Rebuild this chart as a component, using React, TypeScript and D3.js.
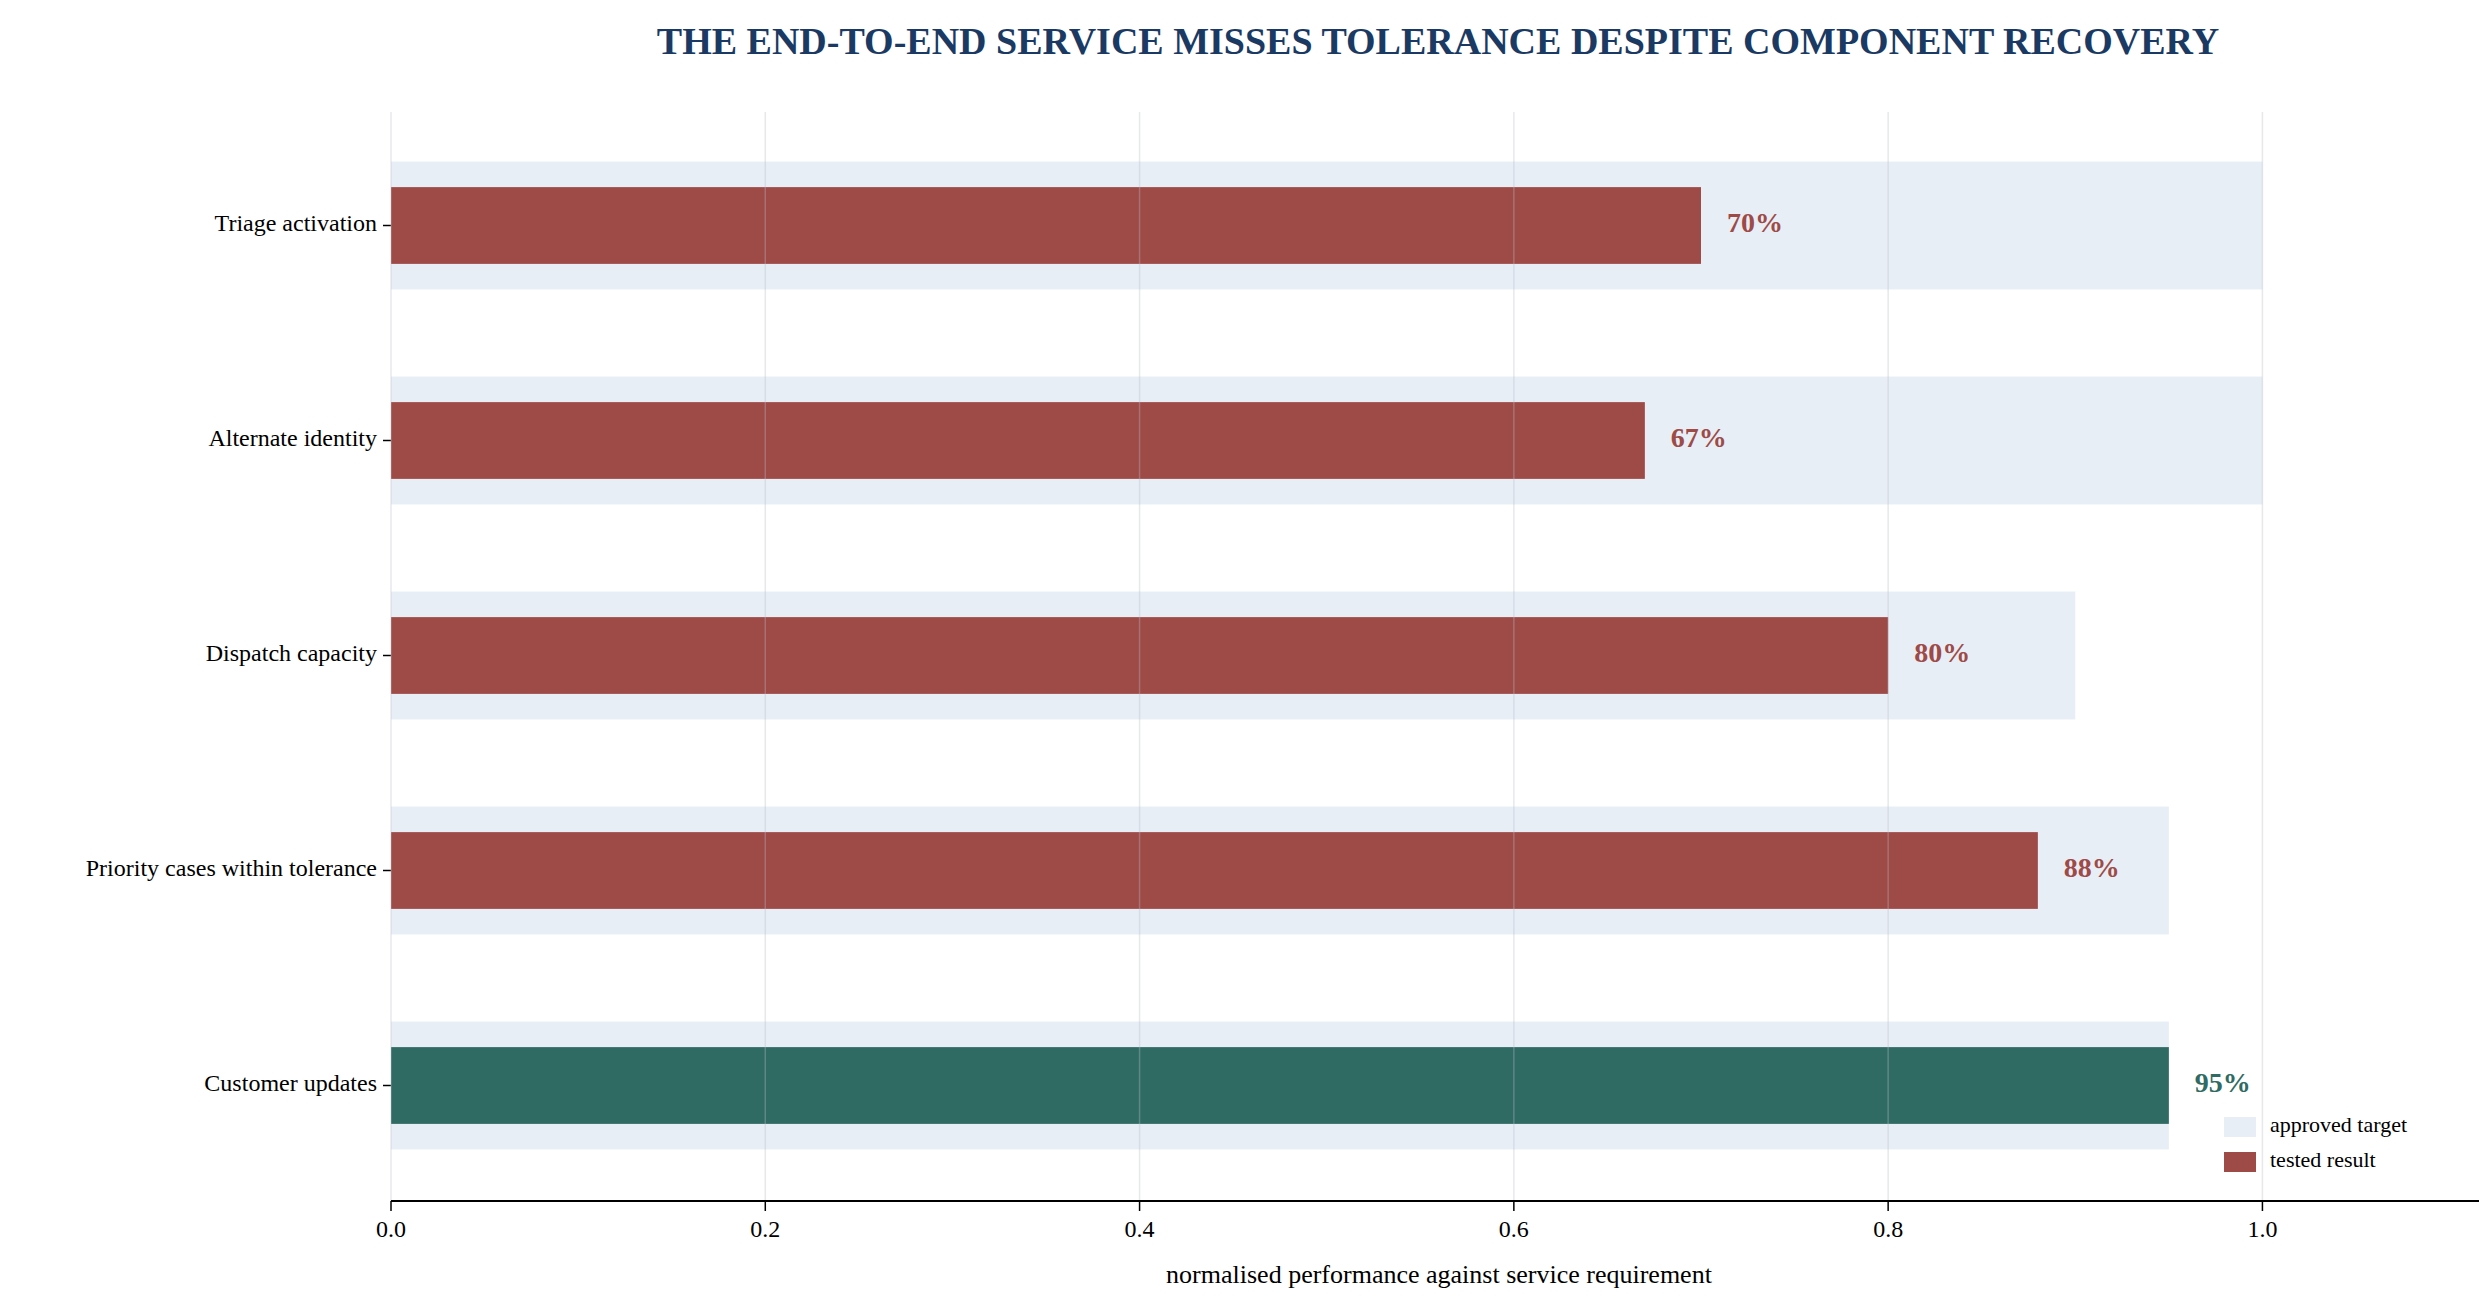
import { useMemo } from "react";
import { scaleLinear, scaleBand } from "d3";

const categories = ["Triage activation", "Alternate identity", "Dispatch capacity", "Priority cases within tolerance", "Customer updates"];
const targets = [1.0, 1.0, 0.9, 0.95, 0.95];
const results = [0.7, 0.67, 0.8, 0.88, 0.95];
const ticks = [0, 0.2, 0.4, 0.6, 0.8, 1.0];

const W = 2487;
const H = 1297;
const font = "'Liberation Serif', 'DejaVu Serif', serif";
const red = "#9e4a47";
const green = "#2f6b63";
const band = "#e8eef6";

export default function App() {
    const x = useMemo(() => scaleLinear().domain([0, 1.12]).range([383, 2479]), []);
    const y = useMemo(() => scaleBand<string>().domain(categories).range([110, 1185]), []);
    const axisY = 1193;
    const step = y.step();

    return (
        <svg width={W} height={H} style={{ display: "block", fontFamily: font }}>
            <text x={1430} y={46} textAnchor="middle" fontSize={38} fontWeight="bold" fill="#1a3a63">
                THE END-TO-END SERVICE MISSES TOLERANCE DESPITE COMPONENT RECOVERY
            </text>
            {categories.map((c, i) => {
                const cy = (y(c) as number) + step / 2;
                const bh = step * 0.595;
                const rh = step * 0.357;
                const meets = results[i] >= targets[i];
                const col = meets ? green : red;
                return (
                    <g key={c}>
                        <rect x={x(0)} y={cy - bh / 2} width={x(targets[i]) - x(0)} height={bh} fill={band} />
                        <rect x={x(0)} y={cy - rh / 2} width={x(results[i]) - x(0)} height={rh} fill={col} />
                        <text x={x(results[i]) + 26} y={cy} dominantBaseline="middle" fontSize={28} fontWeight="bold" fill={col}>
                            {Math.round(results[i] * 100)}%
                        </text>
                        <line x1={x(0) - 8} x2={x(0)} y1={cy} y2={cy} stroke="#000" strokeWidth={1.5} />
                        <text x={x(0) - 14} y={cy} textAnchor="end" dominantBaseline="middle" fontSize={24} fill="#000">
                            {c}
                        </text>
                    </g>
                );
            })}
            {ticks.map((t) => (
                <g key={t}>
                    <line x1={x(t)} x2={x(t)} y1={104} y2={axisY} stroke="#b8bcc8" strokeOpacity={0.35} strokeWidth={1.5} />
                    <line x1={x(t)} x2={x(t)} y1={axisY} y2={axisY + 10} stroke="#000" strokeWidth={1.5} />
                    <text x={x(t)} y={axisY + 36} textAnchor="middle" fontSize={24} fill="#000">
                        {t.toFixed(1)}
                    </text>
                </g>
            ))}
            <line x1={x(0)} x2={x(1.12)} y1={axisY} y2={axisY} stroke="#000" strokeWidth={2} />
            <text x={(x(0) + x(1.12)) / 2} y={axisY + 82} textAnchor="middle" fontSize={26} fill="#000">
                normalised performance against service requirement
            </text>
            <rect x={2216} y={1109} width={32} height={20} fill={band} />
            <text x={2262} y={1119} dominantBaseline="middle" fontSize={22}>approved target</text>
            <rect x={2216} y={1144} width={32} height={20} fill={red} />
            <text x={2262} y={1154} dominantBaseline="middle" fontSize={22}>tested result</text>
        </svg>
    );
}
